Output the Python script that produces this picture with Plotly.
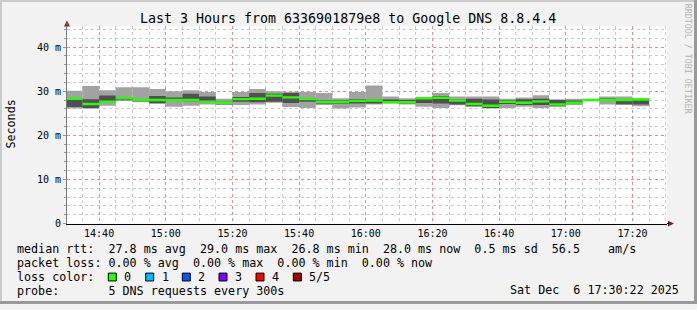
import plotly.graph_objects as go

# ---------------- data ----------------
DAY = "2025-12-06"
slots = ["14:30", "14:35", "14:40", "14:45", "14:50", "14:55",
         "15:00", "15:05", "15:10", "15:15", "15:20", "15:25",
         "15:30", "15:35", "15:40", "15:45", "15:50", "15:55",
         "16:00", "16:05", "16:10", "16:15", "16:20", "16:25",
         "16:30", "16:35", "16:40", "16:45", "16:50", "16:55",
         "17:00", "17:05", "17:10", "17:15", "17:20"]
# sorted pings per 5-min slot (ms): min, 2nd, median, 4th, max
ping_min = [26.1, 26.0, 26.7, 28.0, 27.6, 27.1, 26.5, 26.7, 27.0, 27.0, 26.9, 27.0,
            27.4, 26.4, 26.2, 26.9, 26.1, 26.3, 27.0, 27.2, 27.0, 26.5, 26.2, 26.8,
            26.5, 26.1, 26.2, 26.5, 26.2, 26.5, 26.9, 28.0, 27.0, 27.0, 26.6]
ping_lo = [26.4, 26.2, 27.3, 28.1, 27.7, 27.3, 27.8, 27.7, 27.4, 27.2, 27.6, 27.5,
           27.6, 27.3, 27.6, 27.2, 27.1, 27.2, 27.2, 27.3, 27.2, 27.3, 27.2, 27.0,
           26.6, 26.2, 27.1, 26.9, 26.9, 26.6, 27.1, 28.0, 27.9, 27.0, 27.0]
ping_med = [28.3, 27.1, 27.6, 28.4, 28.0, 28.0, 28.0, 28.0, 27.6, 27.4, 28.2, 28.3,
            29.0, 28.6, 28.2, 27.6, 27.5, 27.8, 27.9, 27.5, 27.5, 28.4, 28.5, 27.9,
            27.1, 26.7, 27.6, 27.4, 27.7, 27.0, 27.4, 28.0, 28.0, 28.0, 28.1]
ping_hi = [28.3, 28.2, 29.0, 28.5, 28.1, 28.9, 28.6, 29.4, 28.8, 27.6, 28.7, 29.6,
           29.4, 29.6, 28.3, 28.0, 27.9, 28.2, 28.2, 28.1, 28.0, 28.6, 28.9, 28.2,
           28.3, 28.1, 28.0, 28.2, 28.3, 28.0, 27.9, 28.0, 28.3, 28.1, 28.2]
ping_max = [30.1, 31.2, 30.2, 30.9, 30.9, 30.5, 30.0, 30.2, 29.8, 28.3, 29.8, 30.5,
            30.0, 29.9, 29.9, 29.6, 28.4, 29.8, 31.3, 28.8, 28.4, 28.7, 29.6, 28.8,
            28.8, 28.8, 28.3, 28.6, 29.1, 28.2, 28.3, 28.0, 28.8, 28.8, 28.4]

x_tick_times = ["14:40", "15:00", "15:20", "15:40", "16:00", "16:20", "16:40", "17:00", "17:20"]
y_tick_vals = [0, 10, 20, 30, 40]
y_tick_text = ["0", "10 m", "20 m", "30 m", "40 m"]

loss_labels = ["0", "1", "2", "3", "4", "5/5"]
loss_colors = ["#26ff00", "#00b8ff", "#0059ff", "#7e00ff", "#ff0000", "#a10000"]

title = "Last 3 Hours from 6336901879e8 to Google DNS 8.8.4.4"
legend_lines = [
    "median rtt:  27.8 ms avg  29.0 ms max  26.8 ms min  28.0 ms now  0.5 ms sd  56.5    am/s",
    "packet loss: 0.00 % avg  0.00 % max  0.00 % min  0.00 % now",
    "loss color:",
    "probe:       5 DNS requests every 300s",
]
stamp = "Sat Dec  6 17:30:22 2025"

# ---------------- figure ----------------
W, H = 697, 310
def px(x):
    return x / W
def py(y):
    return 1 - y / H

x_start = [f"{DAY} {s}:00" for s in slots]
MED_W = 0.55

fig = go.Figure()
fig.add_trace(go.Bar(x=x_start, base=ping_min, y=[b - a for a, b in zip(ping_min, ping_max)],
                     width=300000, offset=0, marker=dict(color="#a2a2a2", line=dict(width=0)),
                     hoverinfo="skip"))
fig.add_trace(go.Bar(x=x_start, base=ping_lo, y=[b - a for a, b in zip(ping_lo, ping_hi)],
                     width=300000, offset=0, marker=dict(color="#505050", line=dict(width=0)),
                     hoverinfo="skip"))
fig.add_trace(go.Bar(x=x_start, base=[m - MED_W / 2 for m in ping_med], y=[MED_W] * len(ping_med),
                     width=300000, offset=0, marker=dict(color=loss_colors[0], line=dict(width=0)),
                     hoverinfo="skip"))

PL, PR, PT, PB = 67, 667, 27, 228
mono = "DejaVu Sans Mono"

fig.update_layout(
    width=W, height=H, autosize=False, margin=dict(l=0, r=0, t=0, b=0, pad=0),
    paper_bgcolor="#f2f2f2", plot_bgcolor="#ffffff",
    barmode="overlay", showlegend=False,
    xaxis=dict(
        domain=[px(PL), px(PR)], type="date",
        range=[f"{DAY} 14:30:22", f"{DAY} 17:30:22"],
        tickvals=[f"{DAY} {t}:00" for t in x_tick_times], ticktext=x_tick_times,
        tickfont=dict(family=mono, size=10, color="#000"),
        showgrid=True, gridcolor="rgba(255,95,95,0.6)", griddash="dot", gridwidth=1,
        minor=dict(dtick=300000, tick0=f"{DAY} 14:40:00", showgrid=True,
                   gridcolor="rgba(180,180,180,0.7)", griddash="dot", gridwidth=1),
        showline=True, linecolor="#000000", linewidth=1, zeroline=False,
        ticks="", ticklen=0, fixedrange=True,
    ),
    yaxis=dict(
        domain=[py(PB), py(PT)], range=[0, (PB - PT) / 4.5],
        tickvals=y_tick_vals, ticktext=y_tick_text,
        tickfont=dict(family=mono, size=10, color="#000"),
        showgrid=True, gridcolor="rgba(255,95,95,0.6)", griddash="dot", gridwidth=1,
        minor=dict(dtick=2, showgrid=True, gridcolor="rgba(180,180,180,0.7)", griddash="dot",
                   gridwidth=1, ticks="outside", ticklen=2, tickcolor="#999"),
        showline=True, linecolor="#777777", linewidth=1, zeroline=False,
        ticks="outside", ticklen=3, tickcolor="#999", fixedrange=True,
    ),
)

annotations = [
    dict(text=title, x=px(348), y=py(19), xanchor="center", yanchor="middle",
         font=dict(family=mono, size=13.3, color="#000")),
    dict(text="Seconds", x=px(11), y=py(127), xanchor="center", yanchor="middle",
         textangle=-90, font=dict(family=mono, size=11.7, color="#000")),
    dict(text="RRDTOOL / TOBI OETIKER", x=px(688), y=py(60), xanchor="center", yanchor="middle",
         textangle=90, font=dict(family=mono, size=8.3, color="#b4b4b4")),
    dict(text=stamp, x=px(681), y=py(296), xanchor="right", yanchor="middle",
         font=dict(family=mono, size=11.7, color="#000")),
]
row_y = [254.3, 268.3, 282.3, 296.3]
for line, ry in zip(legend_lines, row_y):
    annotations.append(dict(text=line, x=px(15), y=py(ry), xanchor="left", yanchor="middle",
                            font=dict(family=mono, size=11.7, color="#000")))

sw_x = [108.3, 145.7, 182.3, 219.0, 256.0, 293.3]
shapes = []
for lab, col, sx in zip(loss_labels, loss_colors, sw_x):
    shapes.append(dict(type="rect", xref="paper", yref="paper",
                       x0=px(sx), x1=px(sx + 8), y0=py(286.5), y1=py(278.5),
                       fillcolor=col, line=dict(color="#000", width=1)))
    annotations.append(dict(text=lab, x=px(sx + 14), y=py(282.3), xanchor="left", yanchor="middle",
                            font=dict(family=mono, size=11.7, color="#000")))

for a in annotations:
    a.update(xref="paper", yref="paper", showarrow=False)

# axis arrows
arrow_col = "#8b1a1a"
shapes.append(dict(type="path", xref="paper", yref="paper",
                   path=f"M {px(64)} {py(27)} L {px(67)} {py(21)} L {px(70)} {py(27)} Z",
                   fillcolor=arrow_col, line=dict(width=0)))
shapes.append(dict(type="path", xref="paper", yref="paper",
                   path=f"M {px(668)} {py(225)} L {px(674)} {py(228)} L {px(668)} {py(231)} Z",
                   fillcolor=arrow_col, line=dict(width=0)))
shapes.append(dict(type="line", xref="paper", yref="paper", x0=px(PR), x1=px(669),
                   y0=py(PB), y1=py(PB), line=dict(color="#000", width=1)))
shapes.append(dict(type="line", xref="paper", yref="paper", x0=px(PL), x1=px(PL),
                   y0=py(PT), y1=py(23), line=dict(color="#777", width=1)))
# 3D frame
shapes += [
    dict(type="rect", xref="paper", yref="paper", x0=0, x1=1, y0=py(2), y1=1,
         fillcolor="#cbcbcb", line=dict(width=0)),
    dict(type="rect", xref="paper", yref="paper", x0=0, x1=px(2), y0=0, y1=1,
         fillcolor="#cbcbcb", line=dict(width=0)),
    dict(type="rect", xref="paper", yref="paper", x0=0, x1=1, y0=0, y1=py(307),
         fillcolor="#999999", line=dict(width=0)),
    dict(type="rect", xref="paper", yref="paper", x0=px(694), x1=1, y0=0, y1=1,
         fillcolor="#999999", line=dict(width=0)),
]

fig.update_layout(annotations=annotations, shapes=shapes)

page_fix = (
    "var de=document.documentElement, b=document.body;"
    "[de,b].forEach(function(e){e.style.margin='0';e.style.padding='0';});"
)
fig.write_html("out.html", config={"responsive": False, "displayModeBar": False},
               post_script=page_fix)
